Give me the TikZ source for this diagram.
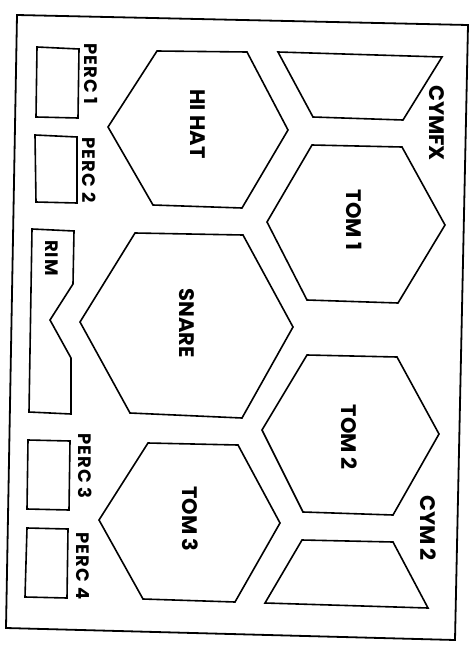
\documentclass[tikz,border=0pt]{standalone}
\usepackage{fontspec}
\setmainfont{Poppins}
\tikzset{
  pad/.style={draw=black,line width=1.6pt,line join=miter},
  frame/.style={draw=black,line width=1.8pt},
  big/.style={font=\fontsize{21}{21}\selectfont\bfseries,rotate=-90,inner sep=0pt},
  small/.style={font=\fontsize{18}{18}\selectfont\bfseries\addfontfeature{LetterSpace=6},rotate=-90,inner sep=0pt}
}
\begin{document}
\begin{tikzpicture}[x=1pt,y=-1pt]
\useasboundingbox (0,0) rectangle (475,645);
\fill[white] (0,0) rectangle (475,645);
% outer frame
\draw[frame] (17,15) -- (468,25) -- (455,640) -- (6,628) -- cycle;
% hexagons
\draw[pad] (157,51) -- (247,52) -- (288,130) -- (242,208) -- (153,205) -- (108,127) -- cycle;
\draw[pad] (312,145) -- (402,147) -- (445,225) -- (398,303) -- (307,300) -- (267,222) -- cycle;
\draw[pad] (135,233) -- (243,235) -- (293,327) -- (242,418) -- (130,413) -- (80,322) -- cycle;
\draw[pad] (307,355) -- (397,357) -- (439,434) -- (393,515) -- (303,512) -- (262,430) -- cycle;
\draw[pad] (148,443) -- (238,445) -- (280,523) -- (235,602) -- (143,599) -- (99,520) -- cycle;
% trapezoids
\draw[pad] (278,52) -- (442,57) -- (403,120) -- (313,117) -- cycle;
\draw[pad] (302,540) -- (393,542) -- (428,608) -- (265,603) -- cycle;
% rectangles
\draw[pad] (37,47) -- (79,49) -- (78,118) -- (36,117) -- cycle;
\draw[pad] (35,135) -- (77,137) -- (77,203) -- (36,202) -- cycle;
\draw[pad] (28,440) -- (70,441) -- (69,510) -- (27,509) -- cycle;
\draw[pad] (27,528) -- (68,529) -- (67,598) -- (25,597) -- cycle;
% rim
\draw[pad] (32,229) -- (74,231) -- (73,284) -- (50,320) -- (71,358) -- (71,414) -- (29,412) -- cycle;
% labels
\node[big] (hihat) at (198,124) {HI HAT};
\node[big] (cymfx) at (437,123) {CYMFX};
\node[big] (tom1) at (354,220) {TOM 1};
\node[big] (snare) at (187,323) {SNARE};
\node[big] (tom2) at (349,437) {TOM 2};
\node[big] (tom3) at (190,519) {TOM 3};
\node[big] (cym2) at (428,528) {CYM 2};
\node[small] (perc1) at (91,74) {PERC 1};
\node[small] (perc2) at (89,170) {PERC 2};
\node[small] (perc3) at (85,466) {PERC 3};
\node[small] (perc4) at (83,566) {PERC 4};
\node[small] (rim) at (52,258) {RIM};
\end{tikzpicture}
\end{document}
